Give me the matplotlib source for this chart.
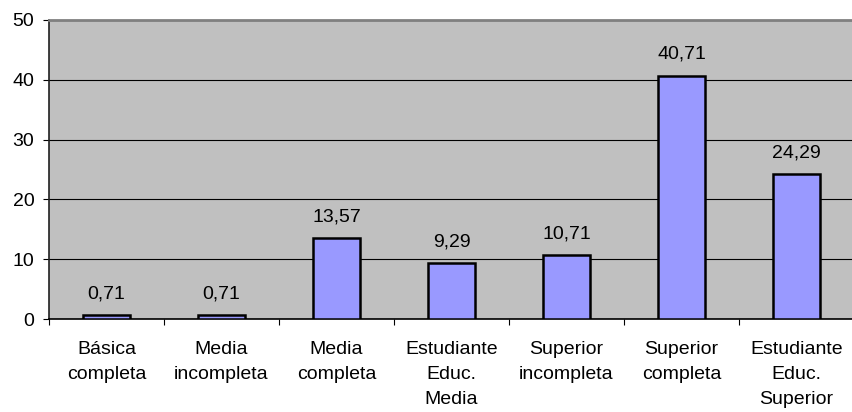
import numpy as np
import matplotlib.pyplot as plt

plt.rcParams['font.family'] = ['Liberation Sans', 'DejaVu Sans']

categorias = ["Básica\ncompleta", "Media\nincompleta", "Media\ncompleta",
              "Estudiante\nEduc.\nMedia", "Superior\nincompleta",
              "Superior\ncompleta", "Estudiante\nEduc.\nSuperior"]
porcentajes = [0.71, 0.71, 13.57, 9.29, 10.71, 40.71, 24.29]
y_ticks = [0, 10, 20, 30, 40, 50]

fig = plt.figure(figsize=(8.53, 4.12), dpi=100)
ax = fig.add_axes([49 / 853, 1 - 319 / 412, 805 / 853, 299 / 412])
ax.set_facecolor('#C0C0C0')

x = np.arange(len(categorias))
ax.bar(x, porcentajes, width=0.41, color='#9999FF', edgecolor='black',
       linewidth=1.8, zorder=3)

for xi, v in zip(x, porcentajes):
    ax.annotate(f"{v:.2f}".replace('.', ','), (xi, v), xytext=(0, 12),
                textcoords='offset points', ha='center', va='baseline',
                fontsize=14, zorder=4)

ax.set_xlim(-0.5, len(categorias) - 0.5)
ax.set_ylim(0, 50)
ax.set_yticks(y_ticks)
ax.yaxis.grid(True, color='black', linewidth=0.8, zorder=0)
ax.tick_params(axis='y', length=4.5, width=0.8, pad=6, labelsize=14)

# category separators as major ticks, labels on minor ticks at bar centres
ax.set_xticks(np.arange(len(categorias) + 1) - 0.5)
ax.set_xticklabels([])
ax.set_xticks(x, minor=True)
ax.set_xticklabels(categorias, minor=True, fontsize=14, linespacing=1.6)
ax.tick_params(axis='x', which='major', length=4.5, width=0.8)
ax.tick_params(axis='x', which='minor', length=0, pad=16)

ax.spines['top'].set_color('#808080')
ax.spines['top'].set_linewidth(2)
ax.spines['right'].set_color('#808080')
ax.spines['right'].set_linewidth(2)
ax.spines['left'].set_color('#202020')
ax.spines['left'].set_linewidth(1.2)
ax.spines['bottom'].set_color('black')
ax.spines['bottom'].set_linewidth(1.2)

fig.savefig('out.png', dpi=100)
